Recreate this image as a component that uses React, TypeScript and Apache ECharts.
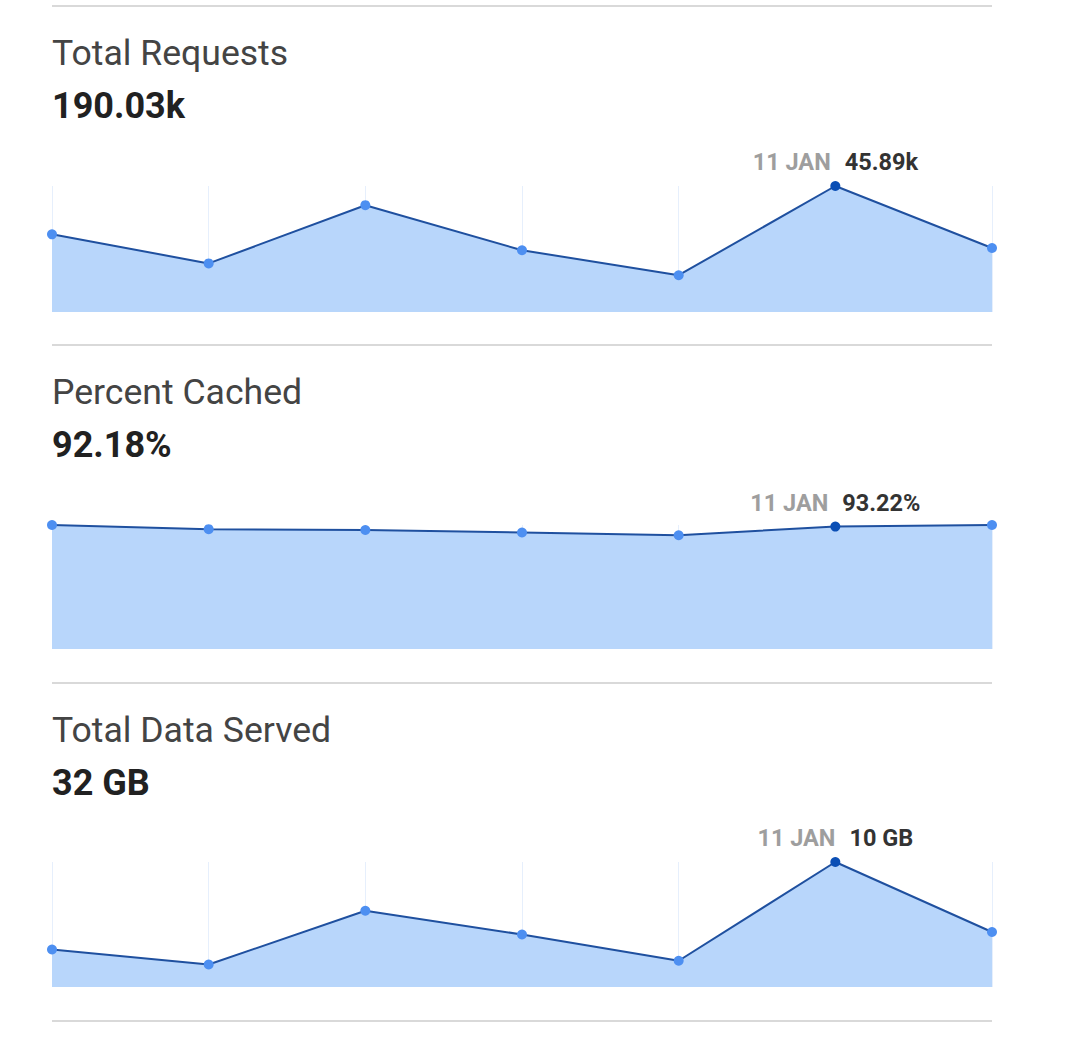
import React, { useEffect, useRef } from "react";
import * as echarts from "echarts";

const categories = ["6 JAN", "7 JAN", "8 JAN", "9 JAN", "10 JAN", "11 JAN", "12 JAN"];
const requestsK = [28.3, 17.7, 38.9, 22.5, 13.4, 45.89, 23.3];
const percentCached = [94.4, 91.2, 90.6, 88.7, 86.6, 93.22, 94.4];
const dataServedGB = [3.0, 1.8, 6.1, 4.2, 2.1, 10, 4.4];
const highlightIndex = 5;

const titles = ["Total Requests", "Percent Cached", "Total Data Served"];
const totals = ["190.03k", "92.18%", "32 GB"];
const seriesValues = [requestsK, percentCached, dataServedGB];
const formatters = [
  (v: number) => v.toFixed(2) + "k",
  (v: number) => v.toFixed(2) + "%",
  (v: number) => v + " GB",
];

const FONT = "Roboto, 'Noto Sans', sans-serif";
const LEFT = 52;
const RIGHT = 992;
const separators = [6, 345, 683, 1021];
const grids = [
  { top: 186, height: 126 },
  { top: 525, height: 124 },
  { top: 862, height: 125 },
];

export default function App() {
  const ref = useRef<HTMLDivElement>(null);
  useEffect(() => {
    document.body.style.margin = "0";
    const chart = echarts.init(ref.current!, undefined, { renderer: "svg" });

    const graphics: any[] = [];
    separators.forEach((y) => {
      graphics.push({
        type: "line",
        shape: { x1: LEFT, y1: y, x2: RIGHT, y2: y },
        style: { stroke: "#d9d9d9", lineWidth: 2 },
      });
    });
    titles.forEach((t, i) => {
      const base = separators[i];
      graphics.push({
        type: "text",
        x: LEFT,
        y: base + 46.5,
        style: {
          text: t,
          font: `400 35.6px ${FONT}`,
          fill: "#444444",
          verticalAlign: "middle",
          align: "left",
        },
      });
      graphics.push({
        type: "text",
        x: LEFT,
        y: base + 100,
        style: {
          text: totals[i],
          font: `700 36px ${FONT}`,
          fill: "#212121",
          verticalAlign: "middle",
          align: "left",
        },
      });
    });

    const series = seriesValues.map((vals, i) => ({
      type: "line",
      xAxisIndex: i,
      yAxisIndex: i,
      symbol: "circle",
      symbolSize: 10,
      showAllSymbol: true,
      lineStyle: { color: "#1f509f", width: 2 },
      itemStyle: { color: "#4d8ff1", borderWidth: 0 },
      areaStyle: { color: "#b8d6fb", opacity: 1 },
      data: vals.map((v, j) =>
        j === highlightIndex
          ? {
              value: v,
              itemStyle: { color: "#0b4fb5" },
              label: {
                show: true,
                position: "top",
                distance: 7,
                formatter: () => `{d|${categories[j]}}{v|${formatters[i](v)}}`,
                rich: {
                  d: {
                    fontFamily: FONT,
                    fontSize: 23.5,
                    fontWeight: 700,
                    color: "#9e9e9e",
                    padding: [0, 14, 0, 0],
                  },
                  v: {
                    fontFamily: FONT,
                    fontSize: 23.5,
                    fontWeight: 700,
                    color: "#333333",
                  },
                },
              },
            }
          : v
      ),
    }));

    chart.setOption({
      animation: false,
      graphic: graphics,
      grid: grids.map((g) => ({
        left: LEFT,
        width: RIGHT - LEFT,
        top: g.top,
        height: g.height,
        containLabel: false,
      })),
      xAxis: grids.map((_, i) => ({
        type: "category",
        gridIndex: i,
        data: categories,
        boundaryGap: false,
        axisLine: { show: false },
        axisTick: { show: false },
        axisLabel: { show: false },
        splitLine: { show: true, lineStyle: { color: "#e6effc", width: 1 } },
      })),
      yAxis: grids.map((_, i) => ({
        type: "value",
        gridIndex: i,
        min: 0,
        max: "dataMax",
        axisLine: { show: false },
        axisTick: { show: false },
        axisLabel: { show: false },
        splitLine: { show: false },
      })),
      series,
    });
    return () => chart.dispose();
  }, []);
  return <div ref={ref} style={{ width: 1080, height: 1039 }} />;
}
